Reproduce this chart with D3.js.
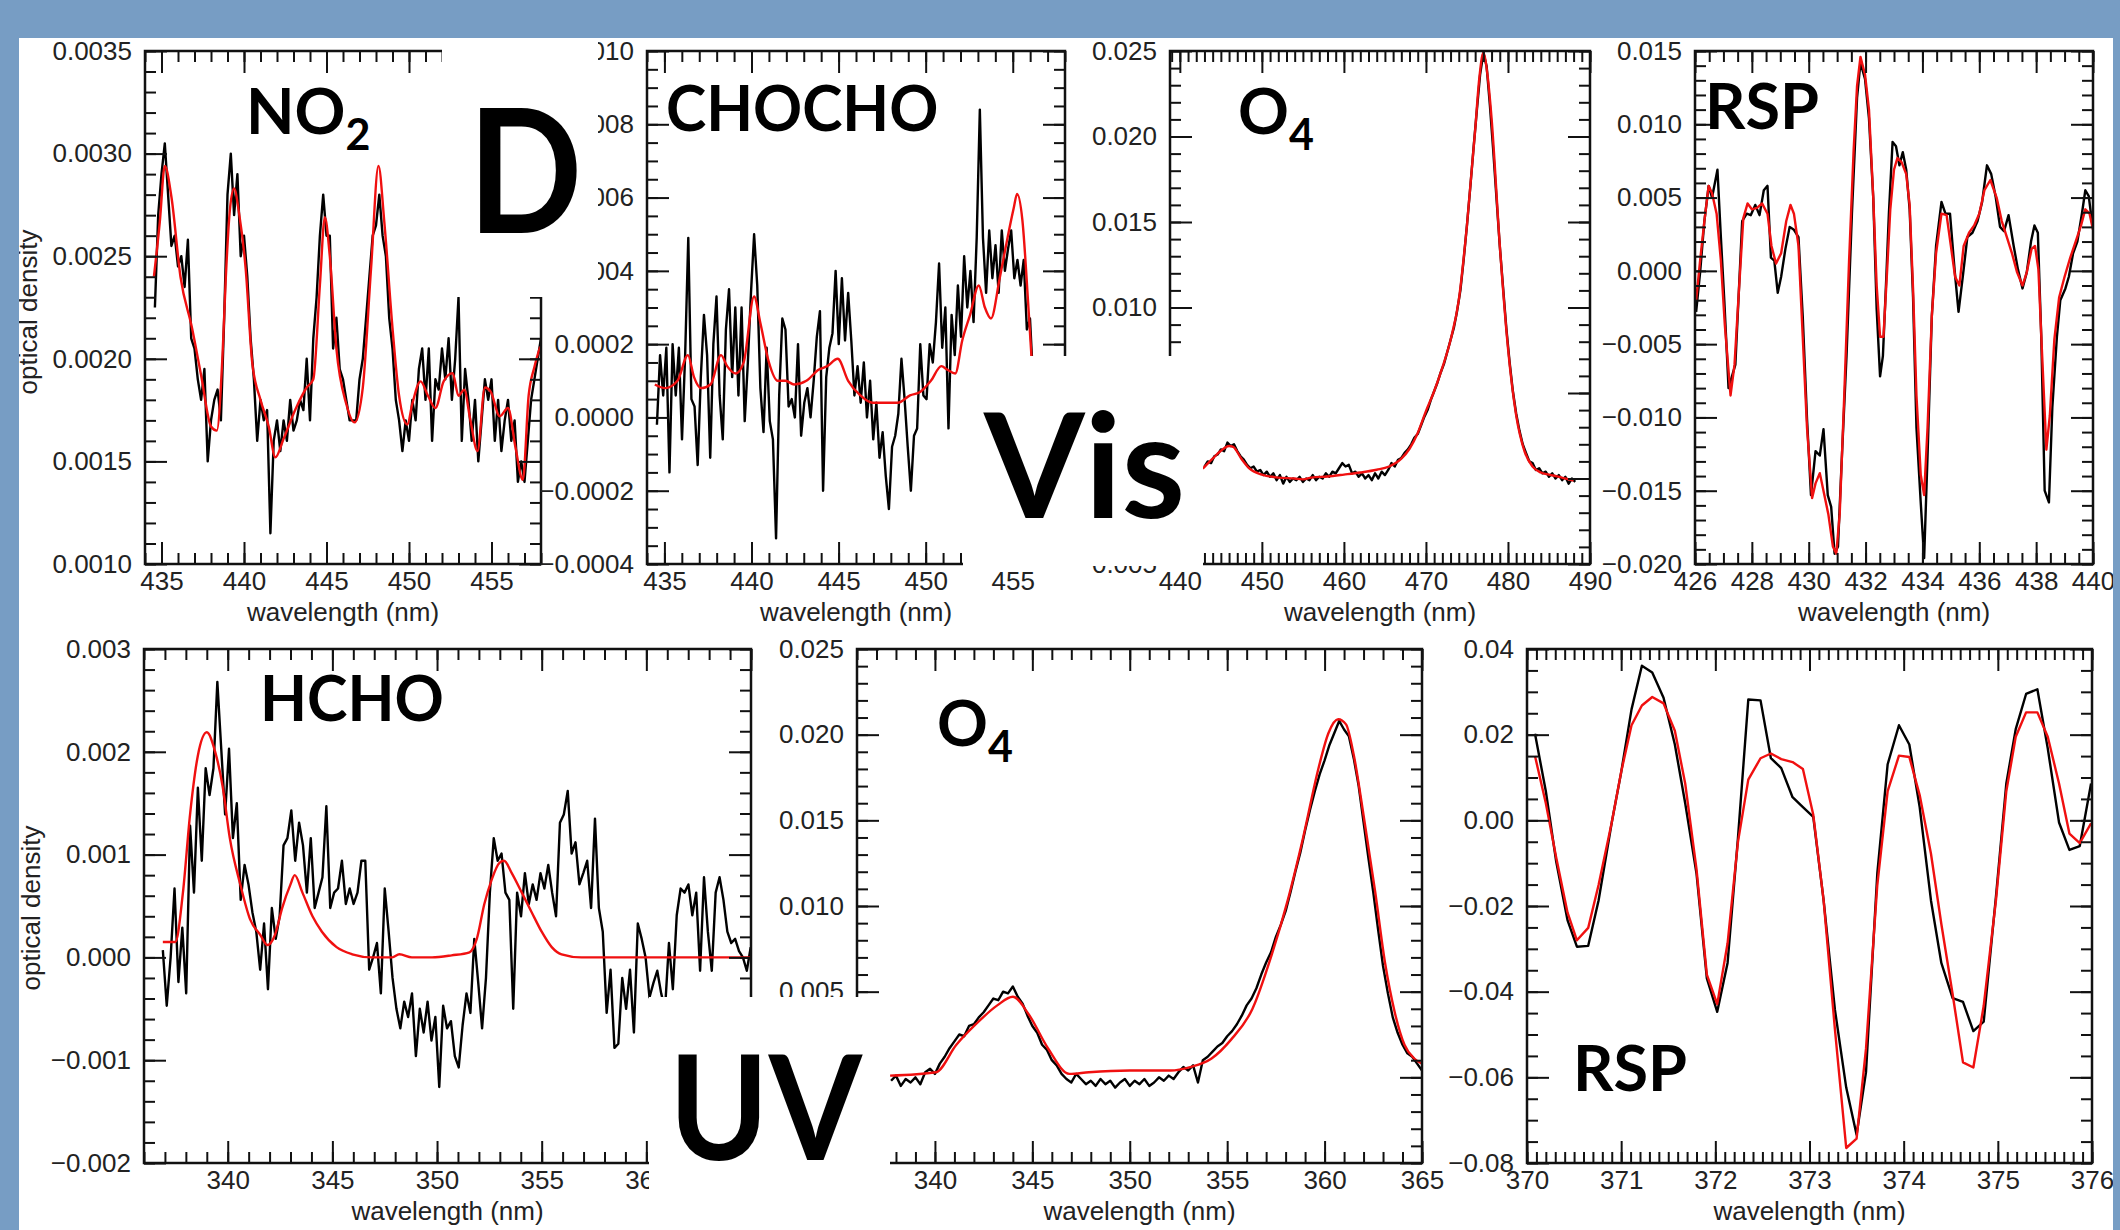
<!DOCTYPE html>
<html>
<head>
<meta charset="utf-8">
<script src="https://cdn.jsdelivr.net/npm/d3@7"></script>
<style>
  body { margin: 0; background: #fff; }
  svg { display: block; }
</style>
</head>
<body>
<script>
// ---------- data ----------

// NO2, visible
const no2MeasStart = 434.6, no2MeasStep = 0.2;
const no2Meas = [
  0.00225,0.0027,0.0029,0.00305,0.0028,0.00255,0.0026,0.00245,0.0025,0.00235,
  0.00258,0.0021,0.00205,0.0019,0.0018,0.00195,0.0015,0.0017,0.0018,0.00185,
  0.0017,0.0022,0.0028,0.003,0.0027,0.0029,0.0025,0.0026,0.0024,0.0021,
  0.0019,0.0016,0.0018,0.0017,0.00175,0.00115,0.0016,0.0017,0.00155,0.0017,
  0.0016,0.0018,0.00165,0.0017,0.0018,0.00175,0.002,0.0017,0.0021,0.0023,
  0.0026,0.0028,0.0026,0.0026,0.00205,0.0022,0.00195,0.0019,0.0018,0.0017,
  0.0017,0.0017,0.0019,0.002,0.0022,0.0024,0.0026,0.00265,0.0028,0.0026,
  0.0025,0.0022,0.00205,0.0018,0.0017,0.00155,0.0017,0.0016,0.0018,0.0017,
  0.00195,0.00205,0.0018,0.00205,0.0016,0.0019,0.00185,0.00205,0.0019,0.0021,
  0.0018,0.002,0.0023,0.0016,0.00195,0.0018,0.0016,0.0018,0.0015,0.0017,
  0.0019,0.0018,0.0019,0.0016,0.0018,0.00155,0.0017,0.0018,0.0016,0.0017,
  0.0014,0.0015,0.0014,0.0016,0.0018,0.0019,0.002,0.0021
];
const no2FitWave = [434.54,434.9,435.2,435.6,436.15,436.85,437.4,438.0,438.35,438.7,
  438.9,439.15,439.4,439.7,440.1,440.5,441.0,441.5,441.9,442.4,
  443.1,443.8,444.2,444.6,444.9,445.2,445.6,446.2,446.7,447.2,
  447.7,448.15,448.5,449.0,449.4,449.9,450.2,450.7,451.15,451.6,
  452.1,452.65,453.0,453.35,453.7,454.15,454.6,454.95,455.5,456.0,
  456.45,456.9,457.25,457.6,457.95];
const no2Fit = [0.0024,0.00267,0.00294,0.00279,0.0024,0.00215,0.00192,0.00167,0.00165,0.00202,
  0.0024,0.00273,0.00283,0.00271,0.00244,0.00198,0.0018,0.00167,0.00152,0.00161,
  0.00175,0.00186,0.0019,0.00236,0.00269,0.0025,0.00205,0.00178,0.00169,0.00186,
  0.00244,0.00294,0.00267,0.00215,0.00182,0.00168,0.00178,0.00189,0.00182,0.00176,
  0.00189,0.00193,0.00182,0.00185,0.00171,0.00155,0.00186,0.00184,0.00172,0.00176,
  0.00157,0.00141,0.00182,0.00196,0.00206];

// CHOCHO, visible
const chochoMeasStart = 434.57, chochoMeasStep = 0.18;
const chochoMeas = [
  -0.00002,0.00017,0.00006,0.00019,-0.00015,0.0002,0.00006,0.00019,-0.00006,0.00017,
  0.00049,0.00005,0.00003,-0.00013,0.00011,0.00028,0.00017,-0.00011,0.0002,0.00033,
  0.00006,-0.00006,0.00024,0.00035,0.00011,0.0003,0.00006,0.0003,-0.00001,0.00015,
  0.00034,0.0005,0.00036,0.00008,-0.00004,0.00019,-0.00001,-0.00006,-0.00033,0.00006,
  0.00027,0.00024,0.00003,0.00005,0.0,0.0002,-0.00005,0.00004,0.00008,0.0,
  0.0001,0.00022,0.00029,-0.0002,0.00011,0.00019,0.00023,0.0004,0.0002,0.00038,
  0.00021,0.00034,0.00021,0.00006,0.00014,0.00004,0.00015,0.0,0.0001,-0.00006,
  0.00004,-0.00011,-0.00004,-0.00016,-0.00025,-0.00008,-0.00005,0.00001,0.00016,0.00005,
  -0.00008,-0.0002,-0.00005,-0.00003,0.0002,0.00006,0.00005,0.0002,0.00015,0.00026,
  0.00042,0.00019,0.0003,-0.00003,0.00028,0.00017,0.00036,0.00022,0.00044,0.0003,
  0.0004,0.00026,0.00049,0.00084,0.00049,0.00034,0.00051,0.00038,0.00047,0.00034,
  0.00051,0.0004,0.00046,0.00051,0.00038,0.00043,0.00036,0.00043,0.00024,0.00027,
  0.0001,-0.0001
];
const chochoFitWave = [434.45,435.05,435.75,436.35,436.7,437.1,437.65,438.25,438.6,439.1,
  439.55,440.15,440.5,441.0,441.5,441.95,442.45,443.15,443.85,444.35,
  444.95,445.55,446.25,446.95,447.7,448.4,449.1,449.7,450.3,450.9,
  451.25,451.7,452.1,452.55,453.05,453.4,453.75,454.25,454.7,455.05,
  455.25,455.55,455.9,456.15,456.5,457.0];
const chochoFit = [0.00009,0.00008,0.0001,0.00017,0.00011,0.00008,0.00009,0.00017,0.00014,0.00012,
  0.00015,0.00033,0.00026,0.00015,0.0001,0.0001,0.00009,0.0001,0.00013,0.00014,
  0.00016,0.0001,0.00006,0.00004,0.00004,0.00004,0.00006,0.00007,0.0001,0.00014,
  0.00013,0.00012,0.00021,0.00028,0.00036,0.0003,0.00027,0.00038,0.00049,0.00057,
  0.00061,0.00054,0.0003,0.00011,-0.0001,-0.0002];

// O4, visible
const o4VisMeasStart = 443.0, o4VisMeasStep = 0.4;
const o4VisMeas = [
  0.0007,0.0010,0.0009,0.0013,0.0014,0.0017,0.0016,0.0021,0.0019,0.0020,
  0.0016,0.0013,0.0011,0.0008,0.0006,0.0007,0.0004,0.0005,0.0002,0.0004,
  0.0001,0.0003,-0.0001,0.0002,-0.0003,0.0001,-0.0002,0.0000,-0.0001,0.0001,
  -0.0002,0.0000,-0.0001,0.0002,-0.0001,0.0001,0.0000,0.0003,0.0001,0.0004,
  0.0003,0.0006,0.0009,0.0007,0.0008,0.0003,0.0004,0.0001,0.0003,0.0000,
  0.0002,-0.0001,0.0003,0.0000,0.0004,0.0002,0.0005,0.0009,0.0007,0.0011,
  0.0012,0.0015,0.0017,0.0020,0.0024,0.0026,0.0031,0.0036,0.0040,0.0046,
  0.0051,0.0056,0.0062,0.0067,0.0074,0.0081,0.0088,0.0098,0.0110,0.0128,
  0.0148,0.0170,0.0193,0.0215,0.0236,0.0249,0.0241,0.0218,0.0192,0.0164,
  0.0136,0.0112,0.0088,0.0068,0.0051,0.0038,0.0028,0.0020,0.0015,0.0010,
  0.0009,0.0005,0.0006,0.0003,0.0004,0.0001,0.0003,0.0000,0.0002,-0.0001,
  0.0001,-0.0003,0.0000,-0.0002
];
const o4VisFitWave = [442.8,444,445,446,446.5,447.5,448.5,450,452,454,455,456,458,460,462,464,465.5,
  467,468,469,470,471,472,473,474,475,476,476.5,477,477.5,478,479,480,481,482,483,484,485,486,487,488];
const o4VisFit = [0.00058,0.00116,0.00162,0.0019,0.00185,0.00116,0.00058,0.00023,0.00005,0.0,-0.00005,
  0.00005,0.00012,0.00023,0.00035,0.00051,0.0007,0.00116,0.00174,0.00266,0.00394,0.0051,0.00648,
  0.0081,0.01042,0.01481,0.02037,0.02338,0.02488,0.02361,0.02106,0.01366,0.00764,0.0037,0.00162,
  0.0007,0.00035,0.00023,0.00012,0.0,-0.00012];

// RSP, visible
const rspVisMeasWave = [426.04,426.18,426.33,426.48,426.6,426.79,426.91,427.03,427.18,427.3,
  427.42,427.54,427.66,427.82,427.96,428.12,428.27,428.42,428.55,428.67,
  428.79,428.91,429.03,429.18,429.33,429.48,429.64,429.79,429.94,430.08,
  430.24,430.39,430.52,430.67,430.79,430.91,431.03,431.15,431.33,431.52,
  431.7,431.82,431.98,432.12,432.27,432.39,432.51,432.61,432.73,432.82,
  432.95,433.07,433.19,433.31,433.43,433.55,433.67,433.79,433.94,434.06,
  434.18,434.33,434.48,434.67,434.81,434.97,435.13,435.27,435.42,435.58,
  435.76,435.94,436.1,436.27,436.42,436.58,436.73,436.87,437.03,437.21,
  437.36,437.52,437.67,437.82,437.94,438.06,438.18,438.3,438.45,438.57,
  438.73,438.85,439.03,439.15,439.3,439.45,439.61,439.73,439.85,439.98];
const rspVisMeas = [-0.0028,-0.0001,0.0034,0.0058,0.005,0.0069,0.0023,-0.002,-0.008,-0.0072,
  -0.0064,-0.0015,0.0034,0.0039,0.0038,0.0045,0.0038,0.0055,0.0058,0.0009,
  0.0007,-0.0015,-0.0004,0.0015,0.003,0.0028,0.0023,-0.0031,-0.0101,-0.0153,
  -0.0123,-0.0126,-0.0108,-0.0153,-0.0161,-0.0193,-0.0188,-0.0134,-0.0058,0.0039,
  0.0118,0.0142,0.0131,0.0104,0.005,-0.0026,-0.0072,-0.0058,-0.0004,0.0039,
  0.0088,0.0085,0.0072,0.0081,0.0069,0.0042,-0.0018,-0.0107,-0.0158,-0.0196,
  -0.0126,-0.0031,0.0017,0.0047,0.0039,0.0039,0.0001,-0.0028,-0.0004,0.0023,
  0.0026,0.0034,0.0047,0.0072,0.0066,0.005,0.003,0.0027,0.0038,0.0017,
  0.0001,-0.0012,-0.0001,0.002,0.0031,0.0026,-0.0045,-0.015,-0.0158,-0.0093,
  -0.0045,-0.002,-0.0012,-0.0004,0.0012,0.002,0.0039,0.0055,0.0051,0.0031];
const rspVisFitWave = [426.04,426.18,426.33,426.48,426.6,426.76,426.91,427.05,427.25,427.39,
  427.54,427.7,427.85,428.0,428.18,428.36,428.55,428.69,428.85,429.03,
  429.21,429.36,429.48,429.64,429.79,429.94,430.12,430.24,430.39,430.55,
  430.69,430.85,430.97,431.09,431.25,431.42,431.58,431.7,431.82,431.98,
  432.12,432.27,432.39,432.51,432.63,432.76,432.87,433.0,433.12,433.27,
  433.43,433.55,433.67,433.79,433.94,434.06,434.18,434.33,434.48,434.67,
  434.85,435.0,435.15,435.3,435.45,435.64,435.82,436.0,436.18,436.39,
  436.61,436.79,436.97,437.15,437.33,437.52,437.67,437.84,437.96,438.08,
  438.2,438.36,438.48,438.64,438.81,439.0,439.2,439.39,439.58,439.73,
  439.88,440.0];
const rspVisFit = [-0.002,0.0007,0.0034,0.0058,0.0053,0.0039,0.0007,-0.0037,-0.0085,-0.0064,
  -0.0015,0.0036,0.0046,0.0042,0.0043,0.0046,0.0039,0.0017,0.0005,0.0012,
  0.0034,0.0045,0.0039,0.0017,-0.0045,-0.0107,-0.0155,-0.0145,-0.0138,-0.0153,
  -0.0166,-0.0188,-0.0193,-0.0166,-0.0085,0.0007,0.0082,0.0126,0.0146,0.0134,
  0.011,0.005,-0.001,-0.0045,-0.0045,0.0001,0.0042,0.0069,0.0077,0.0074,
  0.0066,0.0045,-0.0012,-0.0085,-0.0139,-0.0153,-0.0107,-0.0031,0.0012,0.0039,
  0.0038,0.0017,-0.0004,-0.001,0.0017,0.0026,0.0031,0.0039,0.0055,0.0062,
  0.005,0.0034,0.0023,0.0012,-0.0001,-0.001,-0.0001,0.0015,0.0017,0.0001,
  -0.0053,-0.0122,-0.0099,-0.0047,-0.0018,-0.0004,0.0009,0.002,0.0031,0.0042,
  0.0039,0.0028];

// HCHO, UV
const hchoMeasStart = 336.9, hchoMeasStep = 0.186;
const hchoMeas = [
  0.00007,-0.00047,0.0,0.00067,-0.00024,0.00029,-0.00035,0.00128,0.00063,0.00165,
  0.00094,0.00184,0.00158,0.00184,0.00268,0.00203,0.00139,0.00203,0.00116,0.0015,
  0.00056,0.0009,0.00071,0.00044,0.00025,-0.00012,0.00033,-0.00031,0.00048,0.00018,
  0.0004,0.00109,0.00116,0.00143,0.00094,0.00131,0.00109,0.00063,0.00116,0.00048,
  0.00063,0.00078,0.00147,0.00048,0.00063,0.00067,0.00094,0.00052,0.00067,0.00052,
  0.00063,0.00094,0.00094,-0.00012,0.0,0.00014,-0.00035,0.00067,0.00025,-0.0002,
  -0.0005,-0.00069,-0.00043,-0.00058,-0.00035,-0.00096,-0.0005,-0.00073,-0.00043,-0.00081,
  -0.00058,-0.00126,-0.00047,-0.00069,-0.00062,-0.00096,-0.00107,-0.00066,-0.00035,-0.00054,
  0.00018,-0.00024,-0.00069,-0.0002,0.00063,0.00116,0.00094,0.00101,0.00063,0.00056,
  -0.0005,0.00063,0.0004,0.00082,0.00052,0.00071,0.00056,0.00082,0.00067,0.0009,
  0.00063,0.0004,0.00131,0.00139,0.00162,0.00101,0.00112,0.00071,0.00082,0.00094,
  0.00048,0.00135,0.00048,0.00025,-0.00054,-0.00012,-0.00088,-0.00084,-0.0002,-0.0005,
  -0.00012,-0.00073,0.00033,0.00018,0.0,-0.00039,-0.00025,-0.00013,-0.00035,-0.0005,
  0.00014,-0.00031,0.00041,0.00067,0.00063,0.00071,0.00041,0.00063,-0.00013,0.00078,
  0.00025,-0.00013,0.00063,0.00078,0.00056,0.00025,0.00014,0.00018,0.00006,0.0,
  -0.00013,0.0001
];
const hchoFitWave = [336.9,337.5,337.86,338.2,338.57,339.0,339.4,339.76,340.1,340.6,
  341.07,341.55,341.9,342.26,342.6,343.0,343.2,343.57,344.05,344.5,
  345.2,345.95,346.9,347.86,348.2,348.8,349.76,350.7,351.55,351.9,
  352.26,352.6,352.98,353.2,353.57,354.05,354.52,355.0,355.48,355.95,
  356.9,360.0,365.0];
const hchoFit = [0.00015,0.00015,0.00063,0.00139,0.00196,0.00219,0.002,0.00166,0.00116,0.00071,
  0.00037,0.00022,0.00012,0.00022,0.00048,0.00071,0.0008,0.00063,0.0004,0.00025,
  0.0001,0.00003,0.0,0.0,0.00003,0.0,0.0,0.00002,0.00005,0.00018,
  0.00052,0.00075,0.00092,0.00094,0.00082,0.00063,0.00044,0.00025,0.0001,0.00003,
  0.0,0.0,0.0];

// O4, UV
const o4UvMeasStart = 337.75, o4UvMeasStep = 0.25;
const o4UvMeas = [
  -0.0002,0.0001,-0.0005,-0.0001,-0.0003,0.0000,-0.0004,0.0003,0.0005,0.0002,
  0.0008,0.0012,0.0017,0.0021,0.0025,0.0024,0.0030,0.0031,0.0035,0.0038,
  0.0042,0.0046,0.0045,0.0050,0.0049,0.0053,0.0047,0.0043,0.0036,0.0030,
  0.0026,0.0019,0.0016,0.0010,0.0007,0.0002,-0.0001,-0.0003,0.0002,-0.0001,
  -0.0004,-0.0002,-0.0005,-0.0001,-0.0004,-0.0002,-0.0006,-0.0003,-0.0001,-0.0005,
  -0.0002,-0.0004,-0.0001,-0.0005,-0.0003,0.0000,-0.0002,0.0001,-0.0001,0.0003,
  0.0006,0.0004,0.0007,-0.0003,0.0010,0.0012,0.0015,0.0018,0.0020,0.0024,
  0.0027,0.0031,0.0036,0.0042,0.0046,0.0052,0.0060,0.0067,0.0073,0.0082,
  0.0089,0.0097,0.0108,0.0120,0.0131,0.0144,0.0156,0.0167,0.0177,0.0185,
  0.0194,0.0201,0.0208,0.0203,0.0199,0.0186,0.0170,0.0149,0.0128,0.0108,
  0.0086,0.0065,0.0049,0.0035,0.0026,0.0019,0.0014,0.0012,0.0008,0.0004
];
const o4UvFitWave = [337.7,340.05,341.1,342.1,343.2,344.0,344.8,345.8,346.9,347.9,350.0,351.05,
  352.1,353.1,354.2,355.2,356.3,357.3,358.1,358.9,359.7,360.2,360.7,361.1,361.5,362.0,
  362.6,363.1,363.6,364.1,364.6,365.0];
const o4UvFit = [0.0001,0.0003,0.0019,0.0031,0.0042,0.0047,0.0037,0.0017,0.0002,0.0003,0.0004,0.0004,
  0.0004,0.0006,0.0011,0.0022,0.004,0.0072,0.0103,0.014,0.0181,0.0201,0.0209,0.0206,0.0188,0.0153,
  0.0108,0.0067,0.0038,0.0019,0.0011,0.0008];

// RSP, UV (same wavelength grid for both curves)
const rspUvWave = [370.085,370.2,370.31,370.43,370.53,370.65,370.76,370.9,371.0,371.11,
  371.22,371.33,371.45,371.57,371.68,371.8,371.91,372.02,372.13,372.24,
  372.35,372.48,372.59,372.7,372.82,372.93,373.04,373.15,373.27,373.39,
  373.5,373.6,373.72,373.83,373.95,374.06,374.17,374.29,374.4,374.52,
  374.63,374.74,374.85,374.98,375.09,375.19,375.3,375.42,375.53,375.65,
  375.76,375.87,375.99];
const rspUvMeas = [0.0202,0.0068,-0.0096,-0.0233,-0.0295,-0.0293,-0.0187,-0.0005,0.0112,0.0259,
  0.0361,0.0345,0.0286,0.0177,0.0040,-0.0124,-0.0369,-0.0447,-0.0333,-0.0042,
  0.0282,0.0280,0.0145,0.0122,0.0054,0.0031,0.0008,-0.0187,-0.0442,-0.0624,
  -0.0734,-0.0588,-0.0124,0.0131,0.0222,0.0177,0.0031,-0.0187,-0.0333,-0.0415,
  -0.0424,-0.0492,-0.0470,-0.0178,0.0086,0.0213,0.0295,0.0306,0.0168,-0.0005,
  -0.0069,-0.0060,0.0086];
const rspUvFit = [0.0150,0.0040,-0.0087,-0.0215,-0.0280,-0.0251,-0.0151,-0.0005,0.0113,0.0222,
  0.0268,0.0288,0.0273,0.0209,0.0086,-0.0114,-0.0360,-0.0429,-0.0287,-0.0051,
  0.0095,0.0145,0.0156,0.0143,0.0136,0.0120,0.0013,-0.0187,-0.0488,-0.0765,
  -0.0743,-0.0533,-0.0151,0.0068,0.0151,0.0148,0.0059,-0.0078,-0.0242,-0.0406,
  -0.0565,-0.0577,-0.0433,-0.0187,0.0068,0.0195,0.0252,0.0252,0.0195,0.0086,
  -0.0031,-0.0053,-0.0007];

// ---------- drawing ----------
const W = 2120, H = 1230;
const axisFont = '"Liberation Sans", Arial, Helvetica, sans-serif';
const bigFont = 'Lato, "Open Sans", sans-serif';

const svg = d3.select('body').append('svg').attr('width', W).attr('height', H);
svg.append('rect').attr('width', W).attr('height', H).attr('fill', '#fff');

function grid(start, step, vals) { return vals.map((v, i) => [start + i * step, v]); }
function pairs(w, v) { return w.map((d, i) => [d, v[i]]); }
function stepTicks(dom, step) {
  const lo = Math.ceil(dom[0] / step - 1e-9), hi = Math.floor(dom[1] / step + 1e-9);
  return d3.range(lo, hi + 1).map(k => +(k * step).toFixed(8) + 0);
}

// box = [left, right, top, bottom] in px
const panels = [
  {id: 'no2', box: [145, 541, 51, 564], x: [434, 458], y: [0.001, 0.0035], xt: [5, 1], yt: [0.0005, 0.0001], yf: '.4f',
   meas: grid(no2MeasStart, no2MeasStep, no2Meas), fit: pairs(no2FitWave, no2Fit), smooth: true, ylab: [37, 312]},
  {id: 'chocho', box: [647, 1065, 51, 564], x: [434, 458], y: [-0.0004, 0.001], xt: [5, 1], yt: [0.0002, 0.00005], yf: '.4f',
   meas: grid(chochoMeasStart, chochoMeasStep, chochoMeas), fit: pairs(chochoFitWave, chochoFit), smooth: true},
  {id: 'o4vis', box: [1170, 1590, 51, 564], x: [438.8, 490], y: [-0.005, 0.025], xt: [10, 1], yt: [0.005, 0.001], yf: '.3f',
   meas: grid(o4VisMeasStart, o4VisMeasStep, o4VisMeas), fit: pairs(o4VisFitWave, o4VisFit), smooth: true},
  {id: 'rspvis', box: [1695, 2093, 51, 564], x: [426, 440], y: [-0.02, 0.015], xt: [2, 0.5], yt: [0.005, 0.001], yf: '.3f',
   meas: pairs(rspVisMeasWave, rspVisMeas), fit: pairs(rspVisFitWave, rspVisFit), smooth: false},
  {id: 'hcho', box: [144, 751, 649, 1163], x: [336, 365], y: [-0.002, 0.003], xt: [5, 1], yt: [0.001, 0.0002], yf: '.3f',
   meas: grid(hchoMeasStart, hchoMeasStep, hchoMeas), fit: pairs(hchoFitWave, hchoFit), smooth: true, ylab: [40, 908]},
  {id: 'o4uv', box: [857, 1422, 649, 1163], x: [336, 365], y: [-0.005, 0.025], xt: [5, 1], yt: [0.005, 0.001], yf: '.3f',
   meas: grid(o4UvMeasStart, o4UvMeasStep, o4UvMeas), fit: pairs(o4UvFitWave, o4UvFit), smooth: true},
  {id: 'rspuv', box: [1527, 2092, 649, 1163], x: [370, 376], y: [-0.08, 0.04], xt: [1, 0.1], yt: [0.02, 0.005], yf: '.2f',
   meas: pairs(rspUvWave, rspUvMeas), fit: pairs(rspUvWave, rspUvFit), smooth: false}
];

function drawPanel(p) {
  const [l, r, t, b] = p.box;
  const x = d3.scaleLinear().domain(p.x).range([l, r]);
  const y = d3.scaleLinear().domain(p.y).range([b, t]);
  const g = svg.append('g').attr('class', 'panel-' + p.id);

  g.append('clipPath').attr('id', 'clip-' + p.id)
    .append('rect').attr('x', l).attr('y', t).attr('width', r - l).attr('height', b - t);
  const plot = g.append('g').attr('clip-path', 'url(#clip-' + p.id + ')');

  const line = d3.line().x(d => x(d[0])).y(d => y(d[1]));
  plot.append('path').datum(p.meas)
    .attr('d', line)
    .attr('fill', 'none').attr('stroke', '#000').attr('stroke-width', 2.4).attr('stroke-linejoin', 'round');
  plot.append('path').datum(p.fit)
    .attr('d', line.curve(p.smooth ? d3.curveMonotoneX : d3.curveLinear))
    .attr('fill', 'none').attr('stroke', '#f01010').attr('stroke-width', 2.4).attr('stroke-linejoin', 'round');

  function addAxis(axisFn, scale, pos, values, len, fmt, pad) {
    const ax = axisFn(scale).tickValues(values).tickSizeInner(-len).tickSizeOuter(0).tickPadding(pad).tickFormat(fmt);
    const a = g.append('g').attr('transform', pos).call(ax);
    a.select('.domain').remove();
    a.selectAll('line').attr('stroke', '#111').attr('stroke-width', 2);
    a.selectAll('text').attr('fill', '#222').style('font-family', axisFont).style('font-size', '26px');
  }
  const none = () => '';
  const xMaj = stepTicks(p.x, p.xt[0]), xMin = stepTicks(p.x, p.xt[1]);
  const yMaj = stepTicks(p.y, p.yt[0]), yMin = stepTicks(p.y, p.yt[1]);

  addAxis(d3.axisBottom, x, `translate(0,${b})`, xMin, 11, none, 0);
  addAxis(d3.axisBottom, x, `translate(0,${b})`, xMaj, 22, d3.format('d'), 8);
  addAxis(d3.axisTop, x, `translate(0,${t})`, xMin, 11, none, 0);
  addAxis(d3.axisTop, x, `translate(0,${t})`, xMaj, 22, none, 0);
  addAxis(d3.axisLeft, y, `translate(${l},0)`, yMin, 11, none, 0);
  addAxis(d3.axisLeft, y, `translate(${l},0)`, yMaj, 22, d3.format(p.yf), 13);
  addAxis(d3.axisRight, y, `translate(${r},0)`, yMin, 11, none, 0);
  addAxis(d3.axisRight, y, `translate(${r},0)`, yMaj, 22, none, 0);

  g.append('rect').attr('x', l).attr('y', t).attr('width', r - l).attr('height', b - t)
    .attr('fill', 'none').attr('stroke', '#111').attr('stroke-width', 2.5);

  g.append('text').attr('x', (l + r) / 2).attr('y', b + 57).attr('text-anchor', 'middle')
    .style('font-family', axisFont).style('font-size', '26px').attr('fill', '#222')
    .text('wavelength (nm)');

  if (p.ylab) {
    g.append('text').attr('transform', `translate(${p.ylab[0]},${p.ylab[1]}) rotate(-90)`)
      .attr('text-anchor', 'middle')
      .style('font-family', axisFont).style('font-size', '26px').attr('fill', '#222')
      .text('optical density');
  }
}

panels.forEach(drawPanel);

// white patches of the slide that hide parts of the plots: [x, y, w, h]
const patches = [[442, 38, 156, 259], [963, 356, 240, 210], [649, 997, 241, 233]];
svg.selectAll('rect.patch').data(patches).enter().append('rect').attr('class', 'patch')
  .attr('x', d => d[0]).attr('y', d => d[1]).attr('width', d => d[2]).attr('height', d => d[3])
  .attr('fill', '#fff');

// tick labels under a patch: drop the hidden ones, trim the hidden leading characters of the others
svg.selectAll('.tick text').each(function () {
  for (const p of patches) {
    let bb = this.getBoundingClientRect();
    if (bb.top < p[1] || bb.bottom > p[1] + p[3]) continue;
    const pr = p[0] + p[2];
    if (bb.left >= p[0] && bb.right <= pr) { d3.select(this).remove(); return; }
    while (this.textContent.length > 1 && bb.left >= p[0] && bb.left < pr && bb.right > pr) {
      if (bb.left + this.getSubStringLength(0, 1) > pr) break;
      this.textContent = this.textContent.slice(1);
      bb = this.getBoundingClientRect();
    }
  }
});

function label(x, y, size, main, sub, sx) {
  const t = svg.append('text')
    .attr('transform', `translate(${x},${y}) scale(${sx || 1},1)`)
    .style('font-family', bigFont).style('font-weight', 700).style('font-size', size + 'px')
    .attr('fill', '#000').text(main);
  if (sub) t.append('tspan').attr('dy', size * 0.26).style('font-size', Math.round(size * 0.69) + 'px').text(sub);
}

// species names
label(246, 134, 63, 'NO', '2');
label(666, 131, 63, 'CHOCHO', null, 0.965);
label(1238, 134, 63, 'O', '4');
label(1705, 129, 63, 'RSP');
label(260, 721, 63, 'HCHO', null, 0.97);
label(937, 746, 63, 'O', '4');
label(1573, 1091, 63, 'RSP');

// big slide letters
label(468, 233, 172, 'D', null, 0.874);
label(984, 518, 145, 'Vis');
label(669, 1160, 145, 'UV', null, 0.926);

// slide background frame
const blue = '#779dc4';
svg.append('rect').attr('x', 0).attr('y', 0).attr('width', W).attr('height', 38).attr('fill', blue);
svg.append('rect').attr('x', 0).attr('y', 0).attr('width', 19).attr('height', H).attr('fill', blue);
svg.append('rect').attr('x', 2113).attr('y', 0).attr('width', 7).attr('height', H).attr('fill', blue);
</script>
</body>
</html>
